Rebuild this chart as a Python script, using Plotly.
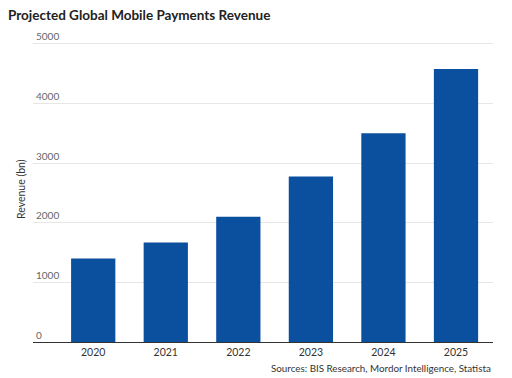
import plotly.graph_objects as go

years = ["2020", "2021", "2022", "2023", "2024", "2025"]
revenue = [1400, 1670, 2100, 2775, 3500, 4580]
y_ticks = [0, 1000, 2000, 3000, 4000, 5000]

title_text = "Projected Global Mobile Payments Revenue"
y_title = "Revenue (bn)"
source_text = "Sources: BIS Research, Mordor Intelligence, Statista"

# The page body adds an 8px margin, so the figure is sized to fit the window.
W, H = 504, 370
TOP, BOTTOM = 12, 36
PLOT_H = H - TOP - BOTTOM

fig = go.Figure(
    go.Bar(
        x=years,
        y=revenue,
        marker=dict(color="#0b4f9f", line=dict(width=0)),
        width=0.61,
    )
)

fig.update_layout(
    width=W,
    height=H,
    margin=dict(l=25, r=19, t=TOP, b=BOTTOM, pad=0),
    paper_bgcolor="white",
    plot_bgcolor="white",
    showlegend=False,
    font=dict(family="Lato, Open Sans, sans-serif", color="#333333"),
    title=dict(
        text="<b>" + title_text + "</b>",
        x=0.0,
        xanchor="left",
        xref="container",
        y=1 - 7.5 / H,
        yref="container",
        yanchor="middle",
        font=dict(family="Lato, sans-serif", size=13.5, color="#222222"),
        pad=dict(l=0, r=0, t=0, b=0),
    ),
    xaxis=dict(
        type="category",
        range=[-0.83, 5.51],
        showgrid=False,
        showline=True,
        linecolor="#333333",
        linewidth=1,
        ticks="",
        tickfont=dict(size=10.5, color="#333333"),
        automargin=False,
        fixedrange=True,
    ),
    yaxis=dict(
        range=[0, 5400],
        tickvals=y_ticks,
        ticktext=[str(v) for v in y_ticks],
        ticklabelposition="inside top",
        showgrid=True,
        gridcolor="#e6e6e6",
        gridwidth=1,
        zeroline=False,
        showline=False,
        tickfont=dict(size=10, color="#666666"),
        automargin=False,
        fixedrange=True,
    ),
    annotations=[
        dict(
            text=y_title,
            textangle=-90,
            xref="paper",
            yref="paper",
            x=-12 / 460,
            y=(334 - 181) / PLOT_H,
            xanchor="center",
            yanchor="middle",
            showarrow=False,
            font=dict(size=10.5, color="#333333"),
        ),
        dict(
            text=source_text,
            xref="paper",
            yref="paper",
            x=1.0,
            y=-26 / PLOT_H,
            xanchor="right",
            yanchor="middle",
            showarrow=False,
            font=dict(size=9.8, color="#333333"),
        ),
    ],
)

fig.write_html("out.html")
